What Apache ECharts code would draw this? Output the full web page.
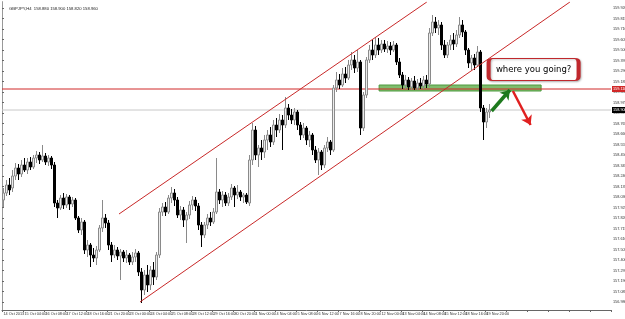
<!DOCTYPE html>
<html>
<head>
<meta charset="utf-8">
<script src="https://cdn.jsdelivr.net/npm/echarts@6/dist/echarts.min.js"></script>
<style>
  html, body { margin: 0; padding: 0; background: #fff; }
  #chart { width: 625px; height: 319px; }
</style>
</head>
<body>
<div id="chart"></div>
<script>
// H4 bars, [open, close, low, high]
const ohlc = [
  [158.00,158.07,157.93,158.12],[158.07,158.15,158.04,158.20],[158.15,158.10,158.05,158.22],[158.12,158.24,158.08,158.30],
  [158.24,158.32,158.20,158.37],[158.32,158.26,158.20,158.36],[158.26,158.35,158.23,158.40],[158.35,158.30,158.28,158.42],
  [158.30,158.38,158.26,158.42],[158.38,158.33,158.30,158.43],[158.33,158.42,158.31,158.45],[158.42,158.45,158.37,158.49],
  [158.45,158.40,158.36,158.48],[158.40,158.44,158.38,158.55],[158.44,158.38,158.35,158.47],[158.38,158.42,158.34,158.45],
  [158.42,158.35,158.31,158.44],[158.35,157.97,157.93,158.38],[157.97,157.92,157.82,158.00],[157.92,158.02,157.90,158.05],
  [158.02,157.95,157.91,158.07],[157.95,158.03,157.92,158.06],[158.03,157.96,157.90,158.05],[157.96,158.00,157.93,158.03],
  [158.00,157.82,157.80,158.02],[157.82,157.70,157.67,157.84],[157.70,157.78,157.65,157.82],[157.78,157.50,157.46,157.80],
  [157.50,157.55,157.43,157.60],[157.55,157.45,157.33,157.57],[157.45,157.42,157.38,157.52],[157.42,157.50,157.35,157.54],
  [157.50,157.72,157.48,157.75],[157.72,157.82,157.68,158.00],[157.82,157.77,157.72,157.86],[157.77,157.55,157.50,157.80],
  [157.55,157.45,157.38,157.58],[157.45,157.50,157.42,157.55],[157.50,157.44,157.40,157.53],[157.44,157.48,157.20,157.51],
  [157.48,157.42,157.38,157.50],[157.42,157.45,157.37,157.50],[157.45,157.38,157.35,157.47],[157.38,157.43,157.35,157.48],
  [157.43,157.47,157.38,157.51],[157.47,157.28,157.24,157.49],[157.28,157.10,156.97,157.32],[157.10,157.25,157.05,157.30],
  [157.25,157.15,157.08,157.35],[157.15,157.30,157.10,157.34],[157.30,157.23,157.15,157.38],[157.23,157.45,157.20,157.48],
  [157.45,157.88,157.42,157.92],[157.88,157.93,157.84,157.97],[157.93,157.88,157.84,157.98],[157.88,158.02,157.86,158.05],
  [158.02,158.07,157.97,158.13],[158.07,158.00,157.94,158.11],[158.00,157.85,157.82,158.03],[157.85,157.90,157.80,157.94],
  [157.90,157.80,157.73,157.93],[157.80,157.85,157.57,157.88],[157.85,157.95,157.81,157.99],[157.95,158.00,157.90,158.04],
  [158.00,157.94,157.89,158.03],[157.94,157.75,157.70,157.97],[157.75,157.65,157.53,157.78],[157.65,157.75,157.62,157.78],
  [157.75,157.82,157.71,157.86],[157.82,157.78,157.74,157.88],[157.78,157.88,157.76,157.92],[157.88,158.08,157.86,158.42],
  [158.08,158.00,157.96,158.11],[158.00,158.05,157.93,158.09],[158.05,157.97,157.94,158.08],[157.97,158.03,157.94,158.07],
  [158.03,158.12,158.00,158.16],[158.12,158.05,157.93,158.14],[158.05,158.08,158.01,158.15],[158.08,158.03,157.99,158.10],
  [158.03,158.05,157.97,158.07],[158.05,157.98,157.96,158.07],[157.97,158.40,157.94,158.45],[158.40,158.70,158.35,158.77],
  [158.70,158.45,158.40,158.74],[158.45,158.52,158.33,158.55],[158.52,158.48,158.40,158.60],[158.48,158.60,158.42,158.65],
  [158.60,158.65,158.50,158.70],[158.65,158.58,158.53,158.73],[158.58,158.75,158.55,158.80],[158.75,158.70,158.63,158.82],
  [158.70,158.80,158.67,158.86],[158.80,158.75,158.50,158.85],[158.75,158.92,158.72,159.03],[158.92,158.85,158.80,158.96],
  [158.85,158.80,158.76,158.91],[158.80,158.88,158.75,158.92],[158.88,158.75,158.70,158.90],[158.75,158.65,158.60,158.78],
  [158.65,158.72,158.62,158.77],[158.72,158.60,158.55,158.74],[158.60,158.65,158.53,158.69],[158.65,158.50,158.45,158.67],
  [158.50,158.40,158.37,158.54],[158.40,158.48,158.25,158.52],[158.48,158.35,158.30,158.50],[158.35,158.52,158.32,158.55],
  [158.52,158.58,158.48,158.63],[158.58,158.50,158.45,158.60],[158.50,159.12,158.48,159.15],[159.12,159.20,159.08,159.28],
  [159.20,159.15,159.11,159.26],[159.15,159.26,159.13,159.32],[159.26,159.22,159.17,159.33],[159.22,159.35,159.20,159.40],
  [159.35,159.40,159.30,159.48],[159.40,159.32,159.27,159.45],[159.32,159.38,159.28,159.50],[159.38,158.72,158.65,159.40],
  [158.72,159.05,158.69,159.08],[159.05,159.40,159.02,159.43],[159.40,159.50,159.37,159.55],[159.50,159.45,159.40,159.60],
  [159.45,159.55,159.42,159.63],[159.55,159.50,159.45,159.62],[159.50,159.56,159.47,159.60],[159.56,159.51,159.48,159.60],
  [159.51,159.54,159.47,159.59],[159.54,159.50,159.45,159.58],[159.50,159.55,159.48,159.59],[159.55,159.38,159.35,159.57],
  [159.38,159.25,159.22,159.42],[159.25,159.15,159.11,159.28],[159.15,159.20,159.11,159.25],[159.20,159.13,159.10,159.23],
  [159.13,159.19,159.10,159.22],[159.19,159.12,159.10,159.24],[159.12,159.17,159.10,159.21],[159.17,159.14,159.11,159.22],
  [159.14,159.20,159.11,159.24],[159.20,159.16,159.12,159.25],[159.16,159.67,159.13,159.72],[159.67,159.78,159.64,159.85],
  [159.78,159.72,159.67,159.83],[159.72,159.75,159.65,159.80],[159.75,159.55,159.50,159.78],[159.55,159.45,159.42,159.60],
  [159.45,159.55,159.42,159.58],[159.55,159.60,159.50,159.65],[159.60,159.56,159.50,159.67],[159.56,159.65,159.53,159.70],
  [159.65,159.75,159.62,159.83],[159.75,159.68,159.63,159.80],[159.68,159.50,159.45,159.70],[159.50,159.37,159.32,159.52],
  [159.37,159.42,159.30,159.45],[159.42,159.35,159.30,159.46],[159.35,159.48,159.34,159.54],[159.48,158.92,158.88,159.50],
  [158.92,158.78,158.60,158.95],[158.78,158.88,158.72,158.92],[158.88,158.90,158.82,158.96]
];

// time labels, one every 7 bars
const xTickLabels = [
  '14 Oct 2013','15 Oct 04:00','16 Oct 08:00','17 Oct 12:00','18 Oct 16:00','21 Oct 20:00',
  '23 Oct 00:00','24 Oct 04:00','25 Oct 08:00','28 Oct 12:00','29 Oct 16:00','30 Oct 20:00',
  '1 Nov 00:00','4 Nov 04:00','5 Nov 08:00','6 Nov 12:00','7 Nov 16:00','8 Nov 20:00',
  '12 Nov 00:00','13 Nov 04:00','14 Nov 08:00','15 Nov 12:00','18 Nov 16:00','19 Nov 20:00'
];
const labelStep = 7;
const slotCount = 203; // bars that fit in the window, incl. empty right margin

const yTicks = [159.920,159.815,159.710,159.605,159.500,159.395,159.290,159.185,159.080,158.975,
  158.870,158.765,158.660,158.555,158.450,158.345,158.240,158.135,158.030,157.925,157.820,
  157.715,157.610,157.505,157.400,157.295,157.190,157.085,156.980];

// drawings, in [bar position, price]
const channelUpper = [[39, 157.86], [141.6, 159.98]];
const channelLower = [[46, 156.98], [189.3, 159.98]];
const resistLevel = 159.11;
const bidPrice = 158.90;
const zone = [[125.7, 159.15], [179.7, 159.09]];
const arrowUp = [[163.2, 158.89], [169.3, 159.10]];
const arrowDown = [[170.3, 159.09], [176.2, 158.75]];
const noteAt = [177.2, 159.305];
const noteText = 'where you going?';

let xCats = []
for (let i = 0; i < slotCount; i++) {
  xCats.push(i % labelStep === 0 && xTickLabels[i / labelStep] ? xTickLabels[i / labelStep] : '')
}

const chart = echarts.init(document.getElementById('chart'));
const last = ohlc[ohlc.length - 1];

const smallText = { fontSize: 3.8, color: '#333', fontFamily: 'Liberation Sans' };

// horizontal price line across the whole window, with its price tag on the axis
const levelLine = (price, color, tagColor) => ({
  type: 'line',
  xAxisIndex: 1,
  data: [[0, price], [slotCount, price]],
  symbol: 'none',
  silent: true,
  z: 2,
  lineStyle: { color: color, width: 1 },
  endLabel: {
    show: true, distance: 1, formatter: price.toFixed(3),
    fontSize: 3.8, fontFamily: 'Liberation Sans', color: '#fff', backgroundColor: tagColor, padding: [1, 1]
  }
})

const option = {
  animation: false,
  backgroundColor: '#ffffff',
  textStyle: { fontFamily: 'Liberation Sans' },
  title: {
    text: 'GBPJPY,H4  ' + last.map(v => v.toFixed(3)).join(' '),
    left: 4, top: 2,
    textStyle: { fontSize: 4.2, fontWeight: 'normal', color: '#222' }
  },
  grid: { left: 2, right: 14, top: 2, bottom: 9, containLabel: false, outerBoundsMode: 'none' },
  xAxis: [
    {
      type: 'category',
      data: xCats,
      boundaryGap: true,
      axisLine: { lineStyle: { color: '#666', width: 1 } },
      axisTick: { show: true, interval: labelStep - 1, length: 2, lineStyle: { color: '#666' } },
      axisLabel: Object.assign({ interval: labelStep - 1, align: 'left', margin: 2, showMinLabel: true, hideOverlap: false }, smallText),
      splitLine: { show: false }
    },
    { type: 'value', min: 0, max: slotCount, show: false }
  ],
  yAxis: [
    {
      type: 'value',
      position: 'right',
      min: 156.90,
      max: 159.98,
      scale: true,
      axisLine: { show: true, lineStyle: { color: '#666', width: 1 } },
      axisTick: { show: true, length: 2, customValues: yTicks, lineStyle: { color: '#666' } },
      axisLabel: Object.assign({ margin: 2, customValues: yTicks, formatter: v => v.toFixed(3) }, smallText),
      splitLine: { show: false }
    },
    {
      type: 'value',
      position: 'left',
      min: 156.90,
      max: 159.98,
      axisLine: { show: true, onZero: false, lineStyle: { color: '#999', width: 1 } },
      axisTick: { show: false },
      axisLabel: { show: false },
      splitLine: { show: false }
    }
  ],
  series: [
    levelLine(bidPrice, '#c8c8c8', '#000'),
    {
      type: 'candlestick',
      data: ohlc,
      barWidth: 2,
      z: 3,
      itemStyle: {
        color: '#ececec', borderColor: '#8a8a8a',
        color0: '#000000', borderColor0: '#000000', borderWidth: 1
      }
    },
    {
      type: 'line',
      xAxisIndex: 1,
      data: channelUpper,
      symbol: 'none',
      lineStyle: { color: '#c82828', width: 1 },
      silent: true,
      z: 4
    },
    {
      type: 'line',
      xAxisIndex: 1,
      data: channelLower,
      symbol: 'none',
      lineStyle: { color: '#c82828', width: 1 },
      silent: true,
      z: 4
    },
    {
      type: 'line',
      xAxisIndex: 1,
      data: [],
      silent: true,
      z: 4,
      markArea: {
        silent: true,
        itemStyle: { color: 'rgba(104,176,84,0.85)', borderColor: '#4f9a3e', borderWidth: 1 },
        data: [[{ coord: zone[0] }, { coord: zone[1] }]]
      }
    },
    levelLine(resistLevel, '#d02828', '#d02828'),
    {
      type: 'line',
      xAxisIndex: 1,
      data: [],
      silent: true,
      z: 6,
      markLine: {
        silent: true,
        symbol: ['none', 'arrow'],
        symbolSize: 9,
        label: { show: false },
        data: [
          [{ coord: arrowUp[0], lineStyle: { color: '#1e7a1e', width: 3.5, type: 'solid' } }, { coord: arrowUp[1] }],
          [{ coord: arrowDown[0], lineStyle: { color: '#e02020', width: 2.5, type: 'solid' } }, { coord: arrowDown[1] }]
        ]
      },
      markPoint: {
        silent: true,
        data: [{
          coord: noteAt,
          symbol: 'path://M4,0 H86 Q90,0 90,4 V18 Q90,22 86,22 H4 Q0,22 0,18 V4 Q0,0 4,0 Z',
          symbolKeepAspect: false,
          symbolSize: [90, 22],
          itemStyle: {
            color: '#fff', borderColor: '#c0282d', borderWidth: 2,
            shadowBlur: 2, shadowColor: 'rgba(0,0,0,0.25)', shadowOffsetX: 1, shadowOffsetY: 1
          },
          label: {
            show: true, position: 'inside', formatter: noteText,
            color: '#000', fontSize: 8.5, fontFamily: 'DejaVu Sans'
          }
        }]
      }
    }
  ]
};

chart.setOption(option);
</script>
</body>
</html>
